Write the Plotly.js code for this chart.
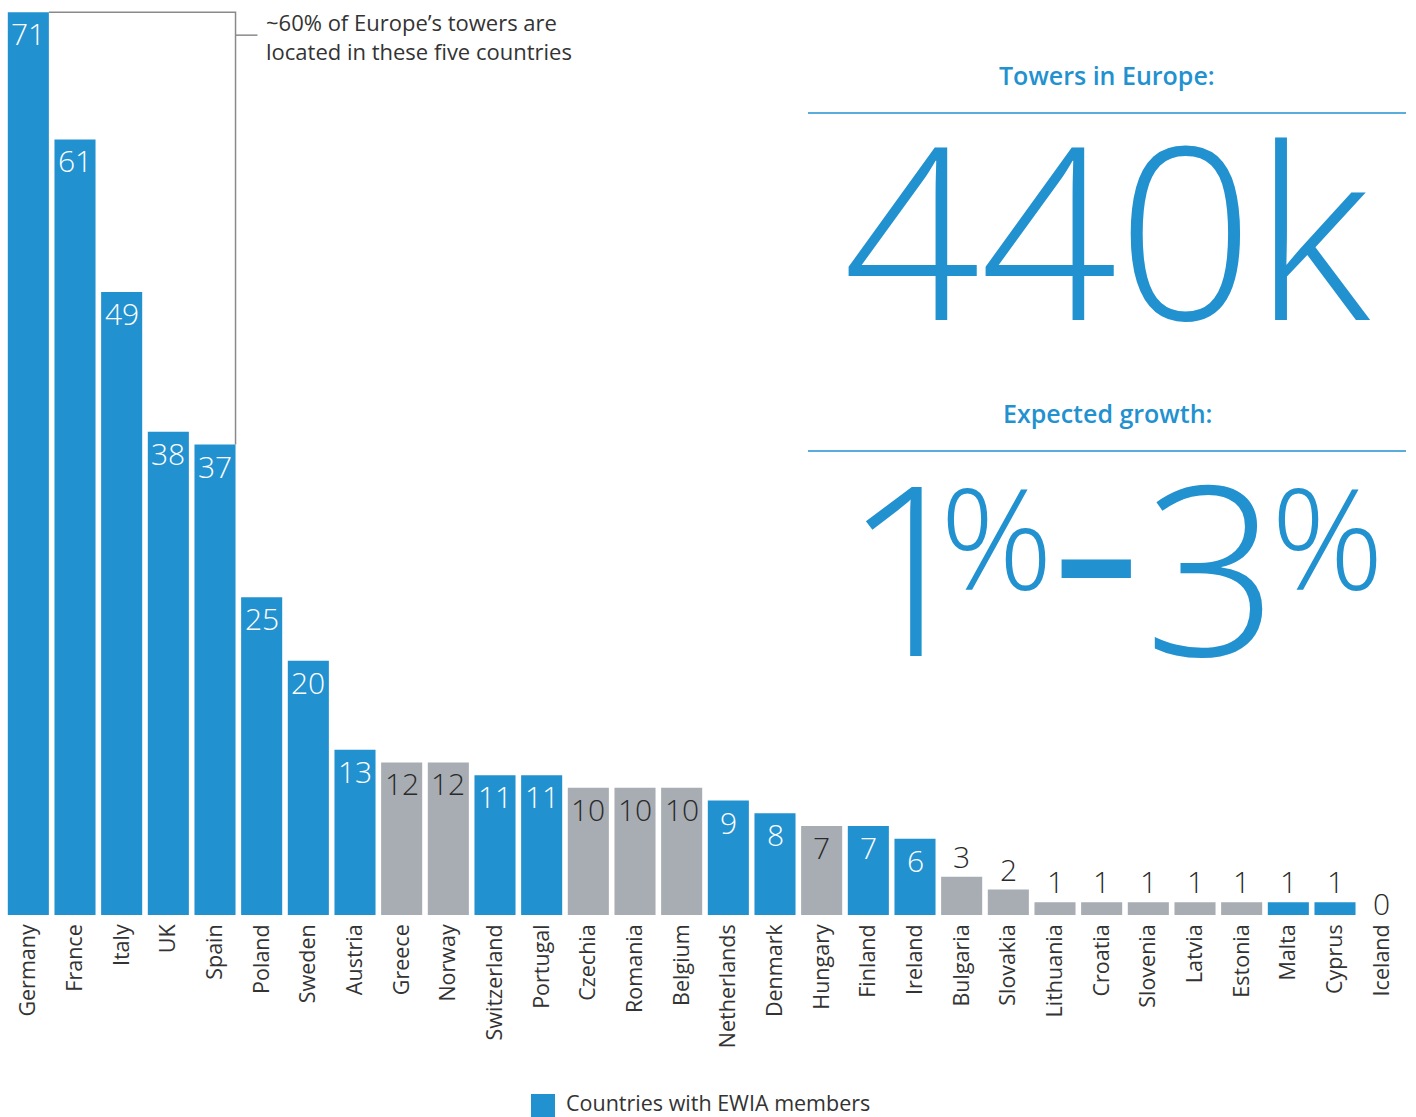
<!DOCTYPE html>
<html><head><meta charset="utf-8">
<script src="https://cdn.plot.ly/plotly-3.0.1.min.js"></script>
<style>html,body{margin:0;padding:0;background:#fff}</style>
</head><body><div id="chart" style="width:1416px;height:1117px"></div>
<script>
const countries = ['Germany','France','Italy','UK','Spain','Poland','Sweden','Austria','Greece','Norway',
  'Switzerland','Portugal','Czechia','Romania','Belgium','Netherlands','Denmark','Hungary','Finland','Ireland',
  'Bulgaria','Slovakia','Lithuania','Croatia','Slovenia','Latvia','Estonia','Malta','Cyprus','Iceland'];
// towers per country (thousands)
const towers = [71,61,49,38,37,25,20,13,12,12,11,11,10,10,10,9,8,7,7,6,3,2,1,1,1,1,1,1,1,0];
// 1 = country with EWIA members
const ewiaMember = [1,1,1,1,1,1,1,1,0,0,1,1,0,0,0,1,1,0,1,1,0,0,0,0,0,0,0,1,1,0];
const totalTowers = '440k';
const growthLow = '1', growthHigh = '3';

const BLUE = '#2291D0', GREY = '#A7ADB3', DARK = '#2a2a2a', TXT = '#333333';
const W = 1416, H = 1117, ML = 5, MR = 11, MT = 11, MB = 202;
const PW = W - ML - MR, PH = H - MT - MB;
const px = v => (v - ML) / PW;
const py = v => (H - MB - v) / PH;

const trace = {
  type: 'bar', x: countries, y: towers,
  marker: {color: ewiaMember.map(m => m ? BLUE : GREY), line: {width: 0}},
  hoverinfo: 'skip', showlegend: false
};

const annotations = towers.map((v, i) => {
  const inside = v >= 6;
  return {
    x: countries[i], y: v, xref: 'x', yref: 'y', text: String(v), showarrow: false,
    xanchor: 'center', yanchor: inside ? 'top' : 'bottom', yshift: inside ? 1 : (v === 0 ? -11 : -2),
    font: {family: 'Open Sans', size: 30, weight: 300, color: inside && ewiaMember[i] ? '#ffffff' : DARK}
  };
});

annotations.push(
  {xref: 'paper', yref: 'paper', x: px(264), y: py(37), xanchor: 'left', yanchor: 'middle', align: 'left',
   showarrow: false, text: '~60% of Europe’s towers are<br>located in these five countries',
   font: {family: 'Open Sans', size: 22, color: TXT}},
  {xref: 'paper', yref: 'paper', x: px(1107), y: py(75), xanchor: 'center', yanchor: 'middle', showarrow: false,
   text: 'Towers in Europe:', font: {family: 'Open Sans', size: 25, weight: 600, color: BLUE}},
  {xref: 'paper', yref: 'paper', x: px(1107), y: py(226), xanchor: 'center', yanchor: 'middle', showarrow: false,
   text: totalTowers, font: {family: 'Open Sans', size: 240, weight: 300, color: BLUE}},
  {xref: 'paper', yref: 'paper', x: px(1107), y: py(413), xanchor: 'center', yanchor: 'middle', showarrow: false,
   text: 'Expected growth:', font: {family: 'Open Sans', size: 25, weight: 600, color: BLUE}},
  {xref: 'paper', yref: 'paper', x: px(910), y: py(564), xanchor: 'center', yanchor: 'middle', showarrow: false,
   text: growthLow, font: {family: 'Open Sans', size: 236, weight: 300, color: BLUE}},
  {xref: 'paper', yref: 'paper', x: px(997), y: py(535), xanchor: 'center', yanchor: 'middle', showarrow: false,
   text: '%', font: {family: 'Open Sans', size: 140, weight: 300, color: BLUE}},
  {xref: 'paper', yref: 'paper', x: px(1096), y: py(549), xanchor: 'center', yanchor: 'middle', showarrow: false,
   text: '–', font: {family: 'Open Sans', size: 165, weight: 700, color: BLUE}},
  {xref: 'paper', yref: 'paper', x: px(1211), y: py(564), xanchor: 'center', yanchor: 'middle', showarrow: false,
   text: growthHigh, font: {family: 'Open Sans', size: 236, weight: 300, color: BLUE}},
  {xref: 'paper', yref: 'paper', x: px(1327), y: py(535), xanchor: 'center', yanchor: 'middle', showarrow: false,
   text: '%', font: {family: 'Open Sans', size: 140, weight: 300, color: BLUE}},
  {xref: 'paper', yref: 'paper', x: px(564), y: py(1102.5), xanchor: 'left', yanchor: 'middle', showarrow: false,
   text: 'Countries with EWIA members', font: {family: 'Open Sans', size: 21.5, color: TXT}}
);

const shapes = [
  {type: 'path', xref: 'x', yref: 'y', path: 'M 0.44,71 L 4.44,71 L 4.44,37', line: {color: '#8a8a8a', width: 1.5}},
  {type: 'line', xref: 'x', yref: 'y', x0: 4.44, x1: 4.91, y0: 69.2, y1: 69.2, line: {color: '#8a8a8a', width: 1.5}},
  {type: 'line', xref: 'paper', yref: 'paper', x0: px(808), x1: px(1406), y0: py(113), y1: py(113), line: {color: BLUE, width: 1.5}},
  {type: 'line', xref: 'paper', yref: 'paper', x0: px(808), x1: px(1406), y0: py(451), y1: py(451), line: {color: BLUE, width: 1.5}},
  {type: 'rect', xref: 'paper', yref: 'paper', x0: px(531), x1: px(555), y0: py(1094), y1: py(1118), fillcolor: BLUE, line: {width: 0}}
];

const layout = {
  width: W, height: H, margin: {l: ML, r: MR, t: MT, b: MB},
  paper_bgcolor: '#fff', plot_bgcolor: '#fff', bargap: 0.12, showlegend: false,
  xaxis: {type: 'category', range: [-0.5, 29.5], showgrid: false, zeroline: false, showline: false,
    ticks: '', tickangle: -90, ticklabelstandoff: 4,
    tickfont: {family: 'Open Sans', size: 21.5, color: TXT}, fixedrange: true},
  yaxis: {range: [0, 71.1], visible: false, fixedrange: true},
  annotations, shapes
};

Plotly.newPlot('chart', [trace], layout, {displayModeBar: false, staticPlot: true});
</script></body></html>
